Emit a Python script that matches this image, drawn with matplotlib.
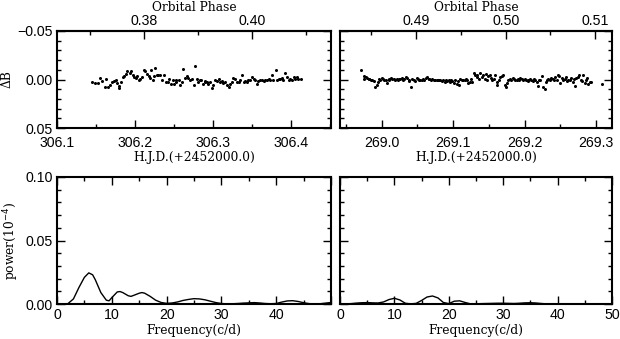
import matplotlib
matplotlib.use("Agg")
import matplotlib.pyplot as plt
from matplotlib.ticker import MultipleLocator, FixedLocator, NullFormatter

# light curve, first night (HJD - 2452000)
hjd1 = [306.145, 306.149, 306.152, 306.155, 306.158, 306.161, 306.163, 306.165, 306.168, 306.171,
        306.173, 306.175, 306.177, 306.179, 306.180, 306.182, 306.184, 306.186, 306.189, 306.190,
        306.193, 306.195, 306.197, 306.199, 306.201, 306.203, 306.205, 306.206, 306.209, 306.211,
        306.213, 306.215, 306.218, 306.219, 306.221, 306.223, 306.224, 306.226, 306.228, 306.230,
        306.232, 306.235, 306.237, 306.240, 306.242, 306.244, 306.246, 306.248, 306.250, 306.252,
        306.253, 306.256, 306.258, 306.260, 306.262, 306.264, 306.266, 306.268, 306.271, 306.273,
        306.275, 306.277, 306.279, 306.281, 306.283, 306.285, 306.287, 306.289, 306.290, 306.292,
        306.294, 306.296, 306.298, 306.300, 306.303, 306.305, 306.307, 306.309, 306.311, 306.313,
        306.315, 306.318, 306.320, 306.322, 306.324, 306.326, 306.328, 306.330, 306.333, 306.335,
        306.337, 306.339, 306.341, 306.343, 306.345, 306.347, 306.350, 306.352, 306.354, 306.356,
        306.358, 306.360, 306.362, 306.365, 306.367, 306.369, 306.371, 306.373, 306.375, 306.377,
        306.380, 306.382, 306.384, 306.386, 306.388, 306.390, 306.392, 306.394, 306.397, 306.399,
        306.401, 306.403, 306.405, 306.407, 306.409, 306.412]
dB1 = [0.003, 0.004, 0.004, -0.002, 0.002, 0.008, -0.001, 0.008, 0.006, 0.003,
       0.002, 0.001, 0.004, 0.007, 0.009, 0.003, -0.003, -0.004, -0.006, -0.009,
       -0.007, -0.009, -0.005, -0.003, -0.002, -0.004, 0.000, -0.001, -0.003, -0.010,
       -0.009, -0.006, -0.004, -0.002, -0.010, 0.000, -0.004, -0.012, -0.005, -0.005,
       -0.005, 0.001, -0.005, 0.003, 0.003, -0.001, 0.005, 0.000, 0.005, 0.001,
       0.003, 0.001, 0.006, 0.003, -0.011, -0.002, -0.004, -0.002, 0.000, -0.001,
       0.006, -0.014, -0.001, 0.003, 0.001, 0.001, 0.005, 0.003, 0.002, 0.003,
       0.005, 0.003, 0.009, 0.006, 0.000, 0.002, -0.001, 0.003, 0.002, 0.004,
       0.003, 0.006, 0.008, 0.005, 0.003, -0.002, -0.001, 0.003, 0.003, 0.001,
       -0.005, 0.003, 0.002, 0.003, 0.001, 0.001, -0.003, -0.001, 0.001, 0.005,
       0.002, 0.000, 0.001, 0.002, 0.001, 0.001, -0.001, 0.001, -0.005, 0.001,
       -0.010, 0.001, -0.001, -0.001, -0.002, 0.000, -0.007, -0.003, 0.000, -0.001,
       0.000, -0.003, -0.001, -0.003, -0.001, -0.001]

# light curve, second night
hjd2 = [268.972, 268.975, 268.976, 268.978, 268.980, 268.982, 268.983, 268.985, 268.987, 268.989,
        268.991, 268.993, 268.995, 268.997, 268.998, 269.000, 269.002, 269.004, 269.006, 269.008,
        269.010, 269.011, 269.013, 269.015, 269.017, 269.019, 269.021, 269.023, 269.025, 269.026,
        269.028, 269.030, 269.032, 269.034, 269.036, 269.038, 269.039, 269.041, 269.043, 269.045,
        269.047, 269.049, 269.051, 269.052, 269.054, 269.056, 269.058, 269.060, 269.062, 269.064,
        269.066, 269.067, 269.069, 269.071, 269.073, 269.075, 269.077, 269.079, 269.080, 269.082,
        269.084, 269.086, 269.088, 269.090, 269.092, 269.094, 269.095, 269.097, 269.099, 269.101,
        269.103, 269.105, 269.107, 269.108, 269.110, 269.112, 269.114, 269.116, 269.118, 269.120,
        269.121, 269.123, 269.125, 269.127, 269.129, 269.131, 269.133, 269.134, 269.136, 269.138,
        269.140, 269.142, 269.144, 269.146, 269.148, 269.149, 269.151, 269.153, 269.155, 269.157,
        269.159, 269.161, 269.162, 269.164, 269.166, 269.168, 269.170, 269.172, 269.174, 269.175,
        269.177, 269.179, 269.181, 269.183, 269.185, 269.187, 269.189, 269.190, 269.192, 269.194,
        269.196, 269.198, 269.200, 269.202, 269.204, 269.205, 269.207, 269.209, 269.211, 269.213,
        269.215, 269.217, 269.218, 269.220, 269.222, 269.224, 269.226, 269.228, 269.230, 269.231,
        269.233, 269.235, 269.237, 269.239, 269.241, 269.243, 269.245, 269.246, 269.248, 269.250,
        269.252, 269.254, 269.256, 269.258, 269.259, 269.261, 269.263, 269.265, 269.267, 269.269,
        269.271, 269.272, 269.274, 269.276, 269.278, 269.280, 269.282, 269.284, 269.286, 269.287,
        269.289, 269.291, 269.293, 269.308]
dB2 = [-0.010, -0.001, -0.004, -0.003, -0.002, -0.001, -0.001, 0.000, 0.001, 0.002,
       0.008, 0.006, 0.003, -0.001, 0.001, -0.002, -0.001, 0.001, 0.000, 0.004,
       -0.001, 0.001, -0.002, -0.001, -0.001, 0.001, -0.001, 0.000, -0.001, -0.001,
       -0.002, 0.000, -0.001, -0.003, -0.002, 0.001, 0.002, 0.008, -0.001, 0.001,
       0.002, -0.002, -0.001, 0.001, 0.001, 0.001, -0.001, 0.000, -0.002, -0.003,
       -0.001, -0.001, 0.000, -0.001, 0.001, 0.000, 0.001, 0.001, 0.001, 0.000,
       0.002, 0.001, 0.003, 0.001, 0.002, 0.001, 0.003, 0.000, 0.002, 0.004,
       0.001, 0.005, 0.002, 0.006, -0.001, 0.001, 0.000, 0.001, -0.001, 0.001,
       0.004, 0.003, -0.001, 0.003, -0.007, -0.005, -0.003, -0.005, -0.001, -0.007,
       -0.003, -0.005, -0.001, -0.006, 0.000, -0.004, -0.005, -0.002, 0.001, -0.001,
       -0.005, 0.003, 0.006, 0.000, -0.003, -0.004, -0.005, 0.006, 0.008, 0.004,
       0.001, -0.001, 0.000, -0.002, -0.001, 0.001, 0.000, -0.001, 0.001, -0.002,
       -0.001, 0.000, -0.001, 0.001, 0.002, 0.000, -0.001, 0.001, 0.002, -0.001,
       0.001, 0.003, 0.007, 0.001, 0.000, -0.004, 0.008, 0.010, 0.003, 0.001,
       -0.001, 0.000, -0.002, -0.001, 0.001, -0.003, 0.000, -0.005, -0.004, 0.004,
       -0.002, 0.001, -0.001, -0.003, 0.002, 0.000, 0.001, -0.002, 0.003, -0.001,
       0.007, -0.002, -0.003, -0.005, 0.001, 0.002, -0.005, 0.004, 0.000, -0.002,
       0.005, 0.003, 0.003, 0.005]

# periodograms
freq1 = [0, 1, 2, 3, 4, 5, 5.8, 6.5, 7, 8, 9, 9.5, 10, 11, 11.5, 12, 13, 13.5, 14, 15,
         15.5, 16, 17, 18, 19, 20, 21, 22, 23, 24, 25, 26, 27, 28, 29, 30, 31, 32, 33, 34,
         35, 36, 37, 38, 39, 40, 41, 42, 43, 44, 45, 46, 47, 48, 49, 50]
pow1 = [0, 0, 0.0003, 0.004, 0.013, 0.021, 0.0245, 0.023, 0.019, 0.009, 0.003, 0.0025, 0.005,
        0.0095, 0.0098, 0.009, 0.0065, 0.006, 0.0068, 0.0085, 0.009, 0.0085, 0.006, 0.003,
        0.0012, 0.0005, 0.0008, 0.0016, 0.0028, 0.0036, 0.0042, 0.004, 0.0033, 0.0022, 0.0011,
        0.0004, 0.0001, 0.0002, 0.0004, 0.0007, 0.0009, 0.0011, 0.0008, 0.0004, 0.0002,
        0.0004, 0.0015, 0.0024, 0.0026, 0.002, 0.001, 0.0003, 0.0001, 0.0002, 0.0007, 0.0012]
freq2 = [0, 1, 2, 3, 4, 5, 6, 7, 8, 9, 10, 11, 12, 13, 14, 15, 16, 17, 18, 19, 20, 21, 22,
         23, 24, 25, 26, 27, 28, 29, 30, 31, 32, 33, 34, 35, 36, 37, 38, 39, 40, 45, 50]
pow2 = [0, 0.0001, 0.0003, 0.0007, 0.001, 0.0011, 0.0009, 0.0008, 0.0016, 0.0035, 0.0045,
        0.0032, 0.0006, 0.0001, 0.0005, 0.0028, 0.0055, 0.0063, 0.0048, 0.0012, 0.0003,
        0.0022, 0.0025, 0.0012, 0.0001, 0.0001, 0.0003, 0.0004, 0.0005, 0.0006, 0.0006,
        0.0005, 0.0004, 0.0006, 0.0009, 0.001, 0.0008, 0.0004, 0.0001, 0.0001, 0.0002,
        0.0002, 0.0002]

serif = "DejaVu Serif"
tickfont = "Liberation Sans"
plt.rcParams['font.family'] = tickfont
plt.rcParams['axes.linewidth'] = 1.5
TS = 10.2   # tick label size
LS = 8.8    # axis label size

fig = plt.figure(figsize=(6.2, 3.39), dpi=100)
W, H = 620.0, 339.0


def box(x0, y0, x1, y1):
    return fig.add_axes([x0 / W, 1 - y1 / H, (x1 - x0) / W, (y1 - y0) / H])


ax1 = box(57, 31, 331, 128)
ax2 = box(340, 31, 612, 128)
ax3 = box(57, 177, 331, 304)
ax4 = box(340, 177, 612, 304)


def style(ax, top=True, xpad=4):
    ax.tick_params(which='both', direction='in', right=True, top=top, width=1.0,
                   labelsize=TS)
    ax.tick_params(axis='x', pad=xpad)
    ax.tick_params(axis='y', pad=3)
    ax.tick_params(which='major', length=6)
    ax.tick_params(which='minor', length=3)


# top panels
for ax, x, y in [(ax1, hjd1, dB1), (ax2, hjd2, dB2)]:
    ax.plot(x, y, 'o', color='k', ms=2.2, mew=0)
    ax.set_ylim(0.05, -0.05)
    ax.yaxis.set_major_locator(FixedLocator([-0.05, 0.0, 0.05]))
    ax.yaxis.set_minor_locator(MultipleLocator(0.01))
    ax.set_xlabel("H.J.D.(+2452000.0)", family=serif, fontsize=LS, labelpad=1)
    style(ax, top=False, xpad=5.5)

ax1.set_xlim(306.1, 306.451)
ax1.xaxis.set_major_locator(MultipleLocator(0.1))
ax1.xaxis.set_minor_locator(MultipleLocator(0.05))
ax1.set_yticklabels(["\u22120.05", "0.00", "0.05"])
ax1.set_ylabel("\u0394B", family=serif, fontsize=LS, labelpad=3)

ax2.set_xlim(268.942, 269.322)
ax2.xaxis.set_major_locator(MultipleLocator(0.1))
ax2.xaxis.set_minor_locator(MultipleLocator(0.05))
ax2.yaxis.set_major_formatter(NullFormatter())

# orbital phase axes
p1 = lambda h: 0.38 + (h - 306.1) * 0.14444 - 0.01611
p1i = lambda p: (p - 0.38 + 0.01611) / 0.14444 + 306.1
p2 = lambda h: 0.49 + (h - 269.0) * 0.07989 - 0.003855
p2i = lambda p: (p - 0.49 + 0.003855) / 0.07989 + 269.0

s1 = ax1.secondary_xaxis('top', functions=(p1, p1i))
s1.xaxis.set_major_locator(FixedLocator([0.38, 0.40]))
s1.xaxis.set_minor_locator(FixedLocator([0.37, 0.39, 0.41]))
s1.set_xticklabels(["0.38", "0.40"])
s2 = ax2.secondary_xaxis('top', functions=(p2, p2i))
s2.xaxis.set_major_locator(FixedLocator([0.49, 0.50, 0.51]))
s2.xaxis.set_minor_locator(FixedLocator([0.485, 0.495, 0.505]))
s2.set_xticklabels(["0.49", "0.50", "0.51"])
for s in (s1, s2):
    s.tick_params(which='both', direction='in', labelsize=TS, pad=2, width=1.0)
    s.tick_params(which='major', length=6)
    s.tick_params(which='minor', length=3)
    s.set_xlabel("Orbital Phase", family=serif, fontsize=LS, labelpad=2)

# bottom panels
for ax, f, p in [(ax3, freq1, pow1), (ax4, freq2, pow2)]:
    ax.plot(f, p, color='k', lw=1.0)
    ax.set_xlim(0, 50)
    ax.set_ylim(0, 0.1)
    ax.xaxis.set_major_locator(MultipleLocator(10))
    ax.xaxis.set_minor_locator(MultipleLocator(5))
    ax.yaxis.set_major_locator(MultipleLocator(0.05))
    ax.yaxis.set_minor_locator(MultipleLocator(0.01))
    ax.set_xlabel("Frequency(c/d)", family=serif, fontsize=LS, labelpad=1)
    style(ax, xpad=3)

ax3.set_xticks([0, 10, 20, 30, 40, 50])
ax3.set_xticklabels(["0", "10", "20", "30", "40", ""])
ax3.set_yticks([0, 0.05, 0.1])
ax3.set_yticklabels(["0.00", "0.05", "0.10"])
ax3.set_ylabel("power(10$^{-4}$)", family=serif, fontsize=LS, labelpad=3)
ax4.yaxis.set_major_formatter(NullFormatter())

fig.savefig("out.png", dpi=100)
